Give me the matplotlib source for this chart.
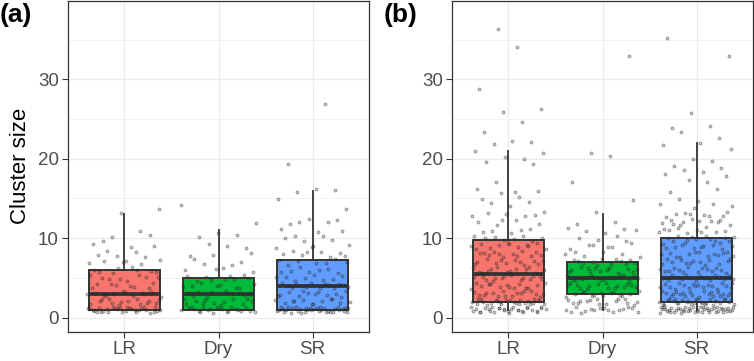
import numpy as np
import matplotlib
matplotlib.use("Agg")
import matplotlib.pyplot as plt

plt.rcParams['font.family'] = ['Liberation Sans', 'DejaVu Sans']

# cluster sizes: counts of clusters of size 1, 2, 3, ... per group
groups = ["LR", "Dry", "SR"]
colors = ["#F8766D", "#00BA38", "#619CFF"]

a_lr = [30, 14, 12, 8, 8, 8, 6, 5, 3, 3, 1, 0, 1, 1]
a_dry = [22, 12, 10, 8, 9, 4, 4, 3, 3, 2, 1, 1, 0, 1]
a_sr = [36, 12, 12, 14, 8, 7, 7, 8, 4, 5, 3, 5, 0, 1, 1, 3, 0, 0, 1,
        0, 0, 0, 0, 0, 0, 0, 1]

b_lr = [30, 25, 16, 14, 14, 13, 12, 12, 12, 8,
        5, 5, 6, 2, 3, 4, 1, 0, 1, 3,
        2, 3, 1, 0, 1, 2, 0, 0, 1, 0,
        0, 0, 0, 1, 0, 1]
b_dry = [16, 15, 14, 15, 16, 13, 12, 6, 6, 4,
         5, 2, 1, 0, 1, 0, 1, 0, 0, 1,
         1, 0, 0, 0, 0, 0, 0, 0, 0, 0,
         0, 0, 1]
b_sr = [45, 30, 20, 18, 16, 14, 13, 13, 12, 12,
        10, 11, 8, 4, 2, 2, 2, 3, 3, 2,
        1, 2, 2, 2, 0, 1, 0, 0, 0, 0,
        0, 0, 1, 0, 1]

panel_a = [a_lr, a_dry, a_sr]
panel_b = [b_lr, b_dry, b_sr]

yticks = [0, 10, 20, 30]


def expand(counts):
    return np.repeat(np.arange(1, len(counts) + 1), counts).astype(float)


def vdc(i, base):
    # van der Corput radical inverse
    out, f = 0.0, 1.0 / base
    while i > 0:
        out += f * (i % base)
        i //= base
        f /= base
    return out


def jitter(n, start, amount=0.4):
    # deterministic spread, like geom_jitter(width=.4, height=.4)
    idx = range(start + 1, start + n + 1)
    jx = np.array([vdc(i, 2) for i in idx])
    jy = np.array([vdc(i, 3) for i in idx])
    return (jx - 0.5) * 2 * amount, (jy - 0.5) * 2 * amount


def panel(ax, data, letter_x, label, seed):
    vals = [expand(c) for c in data]
    pos = np.arange(1, len(vals) + 1)
    edge = "#333333"
    bp = ax.boxplot(vals, positions=pos, widths=0.75, patch_artist=True,
                    showfliers=False, showcaps=False, whis=1.5,
                    medianprops=dict(color=edge, lw=2.7),
                    whiskerprops=dict(color=edge, lw=1.3),
                    boxprops=dict(edgecolor=edge, lw=1.4))
    for patch, c in zip(bp['boxes'], colors):
        patch.set_facecolor(c)
    for k, v in enumerate(vals):
        jx, jy = jitter(len(v), seed + 37 * k)
        ax.plot(pos[k] + jx, v + jy, 'o', ms=2.2, mfc=(0.35, 0.35, 0.35, 0.3),
                mec=(0, 0, 0, 0.42), mew=0.5, zorder=5)

    ax.set_xlim(0.4, 3.6)
    ax.set_ylim(-1.82, 39.94)
    ax.set_xticks(pos)
    ax.set_xticklabels(groups)
    ax.set_yticks(yticks)
    ax.set_yticks([5, 15, 25, 35], minor=True)
    ax.grid(True, which='major', color='#EBEBEB', lw=0.9)
    ax.grid(True, which='minor', axis='y', color='#EBEBEB', lw=0.45)
    ax.set_axisbelow(True)
    ax.tick_params(axis='both', which='major', length=4.5, width=0.8,
                   color='#333333', labelcolor='#4D4D4D', labelsize=13.5, pad=2)
    ax.tick_params(axis='y', which='minor', length=0)
    for s in ax.spines.values():
        s.set_color('#333333')
        s.set_linewidth(0.9)
    fig.text(letter_x, 0.94, label, fontsize=19, fontweight='bold', ha='left')


fig = plt.figure(figsize=(7.54, 3.61), dpi=100)
ax1 = fig.add_axes([68 / 754, 1 - 332 / 361, 301 / 754, 331.5 / 361])
ax2 = fig.add_axes([452 / 754, 1 - 332 / 361, 301 / 754, 331.5 / 361])

panel(ax1, panel_a, 0.0, "(a)", 11)
panel(ax2, panel_b, 384 / 754, "(b)", 500)
ax1.set_ylabel("Cluster size", fontsize=16, labelpad=5)

fig.savefig("out.png", dpi=100)
